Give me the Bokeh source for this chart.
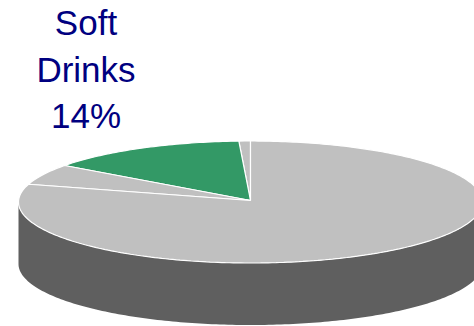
import numpy as np
from bokeh.core.properties import value
from bokeh.embed import file_html
from bokeh.models import ColumnDataSource, Range1d
from bokeh.plotting import figure
from bokeh.resources import INLINE

# Shares of the pie, counter-clockwise from twelve o'clock
shares = [0.8, 14.0, 5.5, 79.7]
slice_colors = ["#C0C0C0", "#339966", "#C0C0C0", "#C0C0C0"]
label_lines = ["Soft", "Drinks", "14%"]

CX, CY = 250.0, 201.5      # rim ellipse centre
APEX_Y = 200.0             # where the slices meet on the tilted top
RX, RY = 232.0, 61.0
DEPTH = 62.0
SIDE_COLOR = "#5F5F5F"
TEXT_COLOR = "#000080"


def rim(theta):
    """Point on the top ellipse; theta is measured counter-clockwise from the top."""
    return CX - RX * np.sin(theta), CY - RY * np.cos(theta)


p = figure(width=474, height=326, output_backend="svg", toolbar_location=None,
           x_range=Range1d(0, 474), y_range=Range1d(326, 0), min_border=0)
p.axis.visible = False
p.grid.visible = False
p.outline_line_color = None
p.background_fill_color = "white"
p.border_fill_color = "white"

# Extruded side wall: the near half of the rim swept down by the depth
near = np.linspace(np.pi / 2, 3 * np.pi / 2, 180)
nx, ny = rim(near)
p.patch(np.r_[nx, nx[::-1]], np.r_[ny + DEPTH, ny[::-1]],
        fill_color=SIDE_COLOR, line_color=None)

# Top face, one polygon per share
edges = np.r_[0, np.cumsum(shares)] / sum(shares) * 2 * np.pi
xs, ys = [], []
for start, stop in zip(edges[:-1], edges[1:]):
    t = np.linspace(start, stop, max(3, int((stop - start) * 60)))
    ex, ey = rim(t)
    xs.append(np.r_[CX, ex].tolist())
    ys.append(np.r_[APEX_Y, ey].tolist())
p.patches(xs, ys, fill_color=slice_colors, line_color="white", line_width=1.2)

# Three-line label above the pie
label = ColumnDataSource(dict(x=[85.5] * 3, y=[22, 68.5, 115], text=label_lines))
p.text("x", "y", text="text", source=label, text_color=TEXT_COLOR,
       text_font=value("Liberation Sans"), text_font_size="35px",
       text_align="center", text_baseline="alphabetic")

open("out.html", "w").write(file_html(p, INLINE))
